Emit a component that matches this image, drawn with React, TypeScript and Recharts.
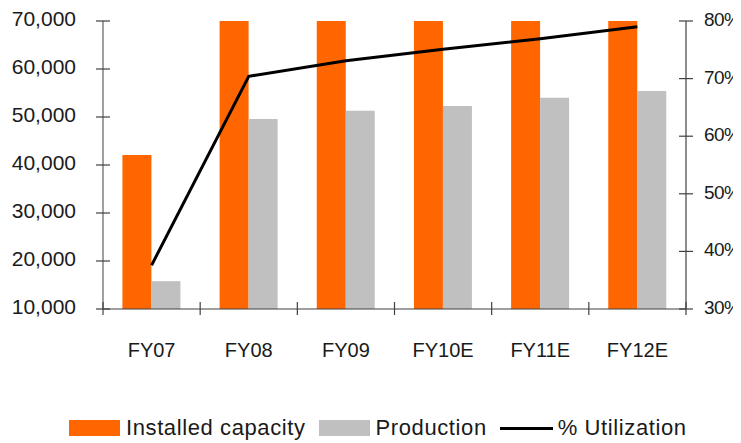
import React from 'react';
import { ComposedChart, Bar, Line, XAxis, YAxis, Legend } from 'recharts';

const years = ['FY07', 'FY08', 'FY09', 'FY10E', 'FY11E', 'FY12E'];
const installedCapacity = [42100, 70300, 70300, 70300, 70300, 70300];
const production = [15800, 49600, 51300, 52300, 54000, 55400];
const utilization = [37.6, 70.4, 73.1, 75.1, 76.9, 79.0];

const capacityTicks = [10000, 20000, 30000, 40000, 50000, 60000, 70000];
const utilizationTicks = [30, 40, 50, 60, 70, 80];

const legendItems = [
  { label: 'Installed capacity', color: '#FF6600', kind: 'box' },
  { label: 'Production', color: '#C0C0C0', kind: 'box' },
  { label: '% Utilization', color: '#000000', kind: 'line' },
];

const data = years.map((year, i) => ({
  year,
  capacity: installedCapacity[i],
  production: production[i],
  utilization: utilization[i],
}));

const FONT = '"Liberation Sans", Arial, sans-serif';
const AXIS = '#404040';
const W = 741;
const H = 443;

// tick marks cross the axis line, so they are drawn here instead of by tickLine
const LeftTick = (props: any) => {
  const { x, y, payload } = props;
  return (
    <g>
      <line x1={x - 7} x2={x + 7} y1={y} y2={y} stroke={AXIS} strokeWidth={1.2} />
      <text x={x - 27} y={y + 5} textAnchor="end" fontSize={21} fontFamily={FONT} fill="#1a1a1a">
        {Number(payload.value).toLocaleString('en-US')}
      </text>
    </g>
  );
};

const RightTick = (props: any) => {
  const { x, y, payload } = props;
  return (
    <g>
      <line x1={x - 7} x2={x + 7} y1={y} y2={y} stroke={AXIS} strokeWidth={1.2} />
      <text
        x={x + 18}
        y={y + 5}
        textAnchor="start"
        fontSize={19}
        letterSpacing={-0.6}
        fontFamily={FONT}
        fill="#1a1a1a"
      >
        {payload.value}%
      </text>
    </g>
  );
};

const CategoryTick = (props: any) => {
  const { x, y, payload, index, visibleTicksCount } = props;
  const half = payload.offset ?? 48.6;
  const last = index === visibleTicksCount - 1;
  return (
    <g>
      <line x1={x - half} x2={x - half} y1={y - 7} y2={y + 6} stroke={AXIS} strokeWidth={1.2} />
      {last && <line x1={x + half} x2={x + half} y1={y - 7} y2={y + 6} stroke={AXIS} strokeWidth={1.2} />}
      <text x={x} y={y + 48} textAnchor="middle" fontSize={20} fontFamily={FONT} fill="#1a1a1a">
        {payload.value}
      </text>
    </g>
  );
};

const ChartLegend = () => (
  <div
    style={{
      display: 'flex',
      alignItems: 'center',
      height: 30,
      paddingLeft: 69,
      fontFamily: FONT,
      fontSize: 22,
      letterSpacing: 0.6,
      color: '#1a1a1a',
    }}
  >
    {legendItems.map((item) => (
      <div key={item.label} style={{ display: 'flex', alignItems: 'center', marginRight: 13 }}>
        {item.kind === 'box' ? (
          <div style={{ width: 51, height: 16, background: item.color, marginRight: 6 }} />
        ) : (
          <div style={{ width: 53, height: 3, background: item.color, marginRight: 5 }} />
        )}
        <span style={{ lineHeight: '30px' }}>{item.label}</span>
      </div>
    ))}
  </div>
);

export default function App() {
  // pull the chart over the body margin so the right-hand labels have room
  return (
    <div style={{ width: W, height: H, marginLeft: -8, marginTop: -8 }}>
      <ComposedChart
        width={W}
        height={H}
        data={data}
        margin={{ top: 21, right: 0, bottom: 0, left: 0 }}
        barCategoryGap="20%"
        barGap={0}
      >
        <XAxis
          dataKey="year"
          height={104}
          axisLine={{ stroke: AXIS, strokeWidth: 1.2 }}
          tickLine={false}
          tickSize={0}
          tickMargin={0}
          tick={<CategoryTick />}
          interval={0}
        />
        <YAxis
          yAxisId="left"
          width={103}
          domain={[10000, 70000]}
          ticks={capacityTicks}
          allowDataOverflow
          axisLine={{ stroke: '#808080', strokeWidth: 1.5 }}
          tickLine={false}
          tickSize={0}
          tickMargin={0}
          tick={<LeftTick />}
          interval={0}
        />
        <YAxis
          yAxisId="right"
          orientation="right"
          width={55}
          domain={[30, 80]}
          ticks={utilizationTicks}
          allowDataOverflow
          axisLine={{ stroke: AXIS, strokeWidth: 1.2 }}
          tickLine={false}
          tickSize={0}
          tickMargin={0}
          tick={<RightTick />}
          interval={0}
        />
        <Legend
          verticalAlign="bottom"
          content={<ChartLegend />}
          wrapperStyle={{ left: 0, width: W }}
        />
        <Bar yAxisId="left" dataKey="capacity" fill="#FF6600" isAnimationActive={false} />
        <Bar yAxisId="left" dataKey="production" fill="#C0C0C0" isAnimationActive={false} />
        <Line
          yAxisId="right"
          dataKey="utilization"
          type="linear"
          stroke="#000000"
          strokeWidth={3}
          dot={false}
          activeDot={false}
          isAnimationActive={false}
        />
      </ComposedChart>
    </div>
  );
}
